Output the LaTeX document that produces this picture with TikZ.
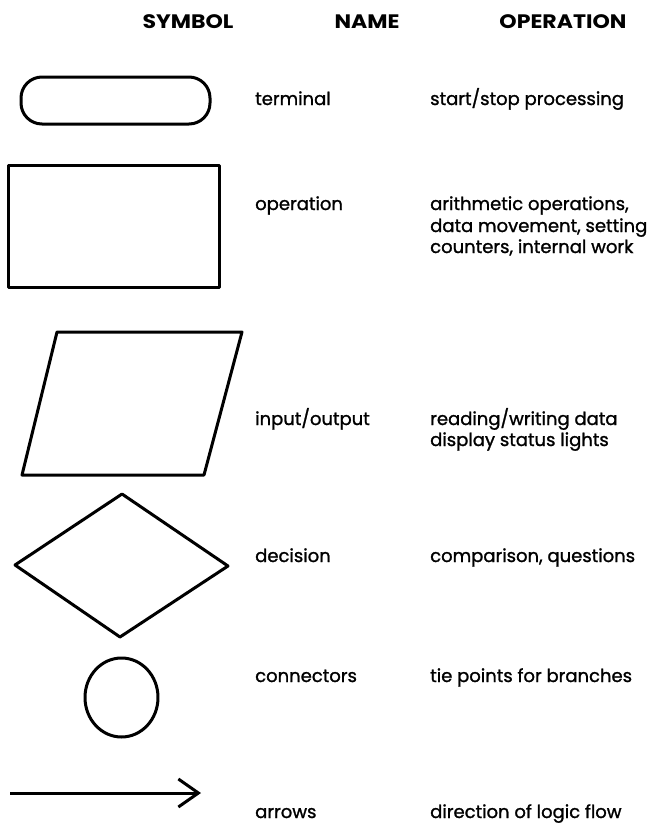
\documentclass[tikz,border=0pt]{standalone}
\usepackage{fontspec}
\usepackage{graphicx}
\setmainfont{Poppins}
\newfontfamily\bodyfont{Poppins}[FakeBold=1.3]
\usetikzlibrary{arrows.meta}
\begin{document}
\begin{tikzpicture}[x=1pt,y=-1pt,
  symline/.style={line width=3pt, line join=round},
  hdr/.style={font=\fontsize{19.5}{22}\selectfont\bfseries, anchor=base, inner sep=0pt},
  lbl/.style={font=\bodyfont\fontsize{18}{21}\selectfont, anchor=base west, inner sep=0pt}]
\useasboundingbox (0,0) rectangle (653,825);
% headers
\node[hdr] (hsym) at (188,28) {\scalebox{1.13}[1]{SYMBOL}};
\node[hdr] (hname) at (367,28) {\scalebox{1.13}[1]{NAME}};
\node[hdr] (hop) at (563,28) {\scalebox{1.13}[1]{OPERATION}};
% terminal
\draw[symline, rounded corners=21pt] (21,77) rectangle (210,124);
\node[lbl] (n1) at (255,105) {terminal};
\node[lbl] (o1) at (430,105) {start/stop processing};
% operation
\draw[symline] (8,165) rectangle (219,287);
\node[lbl] (n2) at (255,210) {operation};
\node[lbl] (o2a) at (430,210) {arithmetic operations,};
\node[lbl] (o2b) at (430,232) {data movement, setting};
\node[lbl] (o2c) at (430,253) {counters, internal work};
% input/output
\draw[symline] (57,332) -- (242,332) -- (204,475) -- (22,475) -- cycle;
\node[lbl] (n3) at (255,425) {input/output};
\node[lbl] (o3a) at (430,425) {reading/writing data};
\node[lbl] (o3b) at (430,446) {display status lights};
% decision
\draw[symline] (15,565) -- (122,494) -- (228,566) -- (120,637) -- cycle;
\node[lbl] (n4) at (255,562) {decision};
\node[lbl] (o4) at (430,562) {comparison, questions};
% connector
\draw[symline] (121.5,697.5) ellipse (36.5 and 39.5);
\node[lbl] (n5) at (255,682) {connectors};
\node[lbl] (o5) at (430,682) {tie points for branches};
% arrow
\coordinate (a1) at (10,793);
\coordinate (a2) at (201,793);
\draw[line width=3pt, -{Straight Barb[length=20pt,width=28pt,line width=3pt]}] (a1) -- (a2);
\node[lbl] (n6) at (255,818) {arrows};
\node[lbl] (o6) at (430,818) {direction of logic flow};
\end{tikzpicture}
\end{document}
